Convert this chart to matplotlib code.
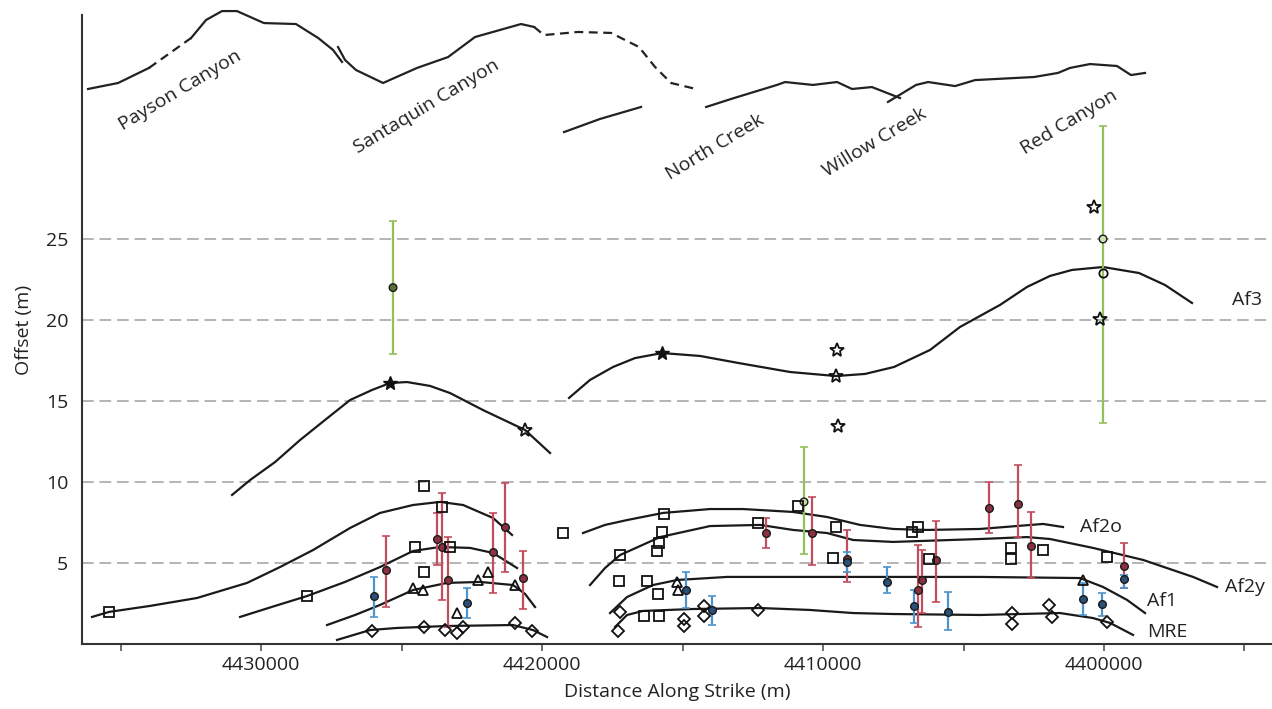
import numpy as np
import matplotlib.pyplot as plt
from matplotlib.ticker import MultipleLocator, FuncFormatter

plt.rcParams['font.family'] = ['Open Sans', 'DejaVu Sans']

# ---- schematic range-front profile (drawn in the offset axis units) ----
prof_a1_x = [4436160, 4435090, 4433990]
prof_a1_y = [34.26, 34.63, 35.56]
prof_a_dash_x = [4433990, 4432490]
prof_a_dash_y = [35.56, 37.41]
prof_a2_x = [4432490, 4431960, 4431390, 4430860, 4429900, 4428760, 4427970, 4427440, 4427120]
prof_a2_y = [37.41, 38.52, 39.07, 39.07, 38.33, 38.27, 37.41, 36.67, 35.93]
prof_b_x = [4427262, 4427012, 4426621, 4425660, 4424450, 4423347, 4422386, 4420749, 4420286]
prof_b_y = [36.85, 36.05, 35.43, 34.63, 35.56, 36.23, 37.47, 38.27, 38.09]
prof_b_dash_x = [4420286, 4419930, 4418720, 4417546, 4416549, 4415980, 4415410, 4414520]
prof_b_dash_y = [38.09, 37.59, 37.78, 37.72, 36.85, 35.62, 34.63, 34.26]
prof_c_x = [4419218, 4417937, 4416478]
prof_c_y = [31.60, 32.41, 33.15]
prof_d_x = [4414160, 4413170, 4411640, 4411350, 4410360, 4409500, 4408970, 4408260, 4407260]
prof_d_y = [33.15, 33.70, 34.51, 34.69, 34.51, 34.69, 34.26, 34.38, 33.70]
prof_e_x = [4407690, 4406690, 4406260, 4405300, 4404590, 4402490, 4401640, 4401210, 4400500, 4399540, 4399040, 4398540]
prof_e_y = [33.46, 34.51, 34.69, 34.44, 34.81, 35.00, 35.25, 35.56, 35.80, 35.68, 35.12, 35.25]

places = ["Payson Canyon", "Santaquin Canyon", "North Creek", "Willow Creek", "Red Canyon"]
place_x = [4432885, 4424094, 4413844, 4408150, 4401245]
place_y = [34.2, 33.15, 30.68, 30.93, 32.22]

# ---- fitted offset curves ----
af3_left_x = [4431034, 4430393, 4429504, 4428614, 4427724, 4426834, 4426052, 4425411, 4424806,
              4423987, 4423275, 4422101, 4420606, 4419716]
af3_left_y = [9.20, 10.12, 11.23, 12.59, 13.83, 15.06, 15.68, 16.11, 16.17, 15.93, 15.49, 14.44, 13.21, 11.79]
af3_right_x = [4419040, 4418293, 4417474, 4416691, 4415730, 4414378, 4413026, 4411175, 4409538, 4408506,
               4407474, 4406192, 4405125, 4403701, 4402740, 4401921, 4401139, 4400035, 4398754, 4397829, 4396868]
af3_right_y = [15.19, 16.30, 17.10, 17.65, 17.96, 17.78, 17.35, 16.79, 16.54, 16.67,
               17.10, 18.15, 19.57, 20.93, 22.04, 22.72, 23.09, 23.27, 22.90, 22.16, 21.05]

af2o_left_x = [4436017, 4435412, 4433952, 4432280, 4430500, 4429326, 4428151, 4426834, 4425767,
               4424592, 4423631, 4422813, 4421745, 4421069]
af2o_left_y = [1.67, 1.98, 2.35, 2.84, 3.77, 4.75, 5.80, 7.16, 8.09, 8.58, 8.77, 8.58, 7.78, 6.73]
af2o_right_x = [4418542, 4417759, 4416976, 4415695, 4414022, 4412848, 4411068, 4409858, 4408684,
                4407509, 4406299, 4404413, 4402171, 4401459]
af2o_right_y = [6.85, 7.35, 7.65, 8.09, 8.33, 8.33, 8.15, 7.84, 7.35, 7.10, 7.04, 7.10, 7.41, 7.22]

af2y_left_x = [4430749, 4429504, 4428365, 4427012, 4425767, 4424592, 4423631, 4422564, 4421745, 4420891]
af2y_left_y = [1.67, 2.35, 2.96, 3.83, 4.75, 5.74, 5.99, 5.93, 5.62, 4.69]
af2y_right_x = [4418293, 4417759, 4417225, 4415802, 4414022, 4412243, 4411068, 4409858, 4408933,
                4407509, 4404413, 4402740, 4401921, 4400391, 4398612, 4396832, 4395978]
af2y_right_y = [3.64, 4.69, 5.49, 6.60, 7.28, 7.35, 7.04, 6.85, 6.42, 6.30, 6.48, 6.60, 6.48,
                5.93, 5.19, 4.14, 3.52]

af1_left_x = [4427653, 4426657, 4425767, 4424592, 4423382, 4422208, 4421033, 4420606, 4420250]
af1_left_y = [1.17, 1.79, 2.41, 3.33, 3.77, 3.83, 3.64, 3.09, 2.28]
af1_right_x = [4417581, 4416976, 4416051, 4415197, 4413417, 4411068, 4404413, 4400854, 4400035,
               4399181, 4398540]
af1_right_y = [1.91, 2.90, 3.64, 3.95, 4.14, 4.14, 4.14, 4.07, 3.52, 2.72, 1.91]

mre_left_x = [4427297, 4426123, 4425162, 4423382, 4421033, 4420322, 4419823]
mre_left_y = [0.25, 0.86, 0.99, 1.11, 1.17, 0.86, 0.43]
mre_right_x = [4417403, 4416976, 4416407, 4414627, 4412243, 4410463, 4408933, 4407509, 4404413,
               4401566, 4400391, 4399786, 4398968]
mre_right_y = [1.05, 1.79, 2.04, 2.16, 2.22, 2.10, 1.91, 1.85, 1.79, 1.91, 1.60, 1.30, 0.56]

curve_names = ["Af3", "Af2o", "Af2y", "Af1", "MRE"]
curve_lab_x = [4394910, 4400106, 4394981, 4397935, 4397758]
curve_lab_y = [21.23, 7.22, 3.52, 2.65, 0.74]

# ---- measured offsets ----
sq_x = [4435412, 4428365, 4424201, 4423560, 4424521, 4423275, 4424201, 4419254, 4415659, 4415730,
        4415837, 4415908, 4417225, 4417261, 4416264, 4415873, 4416371, 4415837, 4412314, 4410890,
        4409538, 4409645, 4406619, 4406833, 4406228, 4403310, 4403310, 4402171, 4399893]
sq_y = [1.98, 2.96, 9.75, 8.46, 5.99, 5.99, 4.44, 6.85, 8.02, 6.91,
        6.23, 5.74, 5.49, 3.89, 3.89, 3.09, 1.73, 1.73, 7.47, 8.52,
        7.22, 5.31, 7.22, 6.91, 5.25, 5.93, 5.25, 5.80, 5.37]
tri_x = [4424592, 4424236, 4422279, 4421923, 4423026, 4420962, 4415197, 4415161, 4400747]
tri_y = [3.46, 3.33, 3.95, 4.44, 1.91, 3.64, 3.83, 3.33, 3.95]
dia_x = [4426052, 4424201, 4423453, 4423026, 4422813, 4420962, 4420357, 4417225, 4417296, 4414947,
         4414947, 4414236, 4414236, 4412314, 4403274, 4403274, 4401957, 4401850, 4399893]
dia_y = [0.80, 1.05, 0.86, 0.68, 1.05, 1.30, 0.80, 1.98, 0.80, 1.54,
         1.11, 2.35, 1.73, 2.10, 1.91, 1.23, 2.41, 1.67, 1.36]
star_fill_x = [4425411, 4415730]
star_fill_y = [16.11, 17.96]
star_open_x = [4420606, 4409502, 4409538, 4409467, 4400356, 4400142]
star_open_y = [13.21, 18.15, 16.54, 13.46, 26.98, 20.06]
circ_x = [4400035]
circ_y = [22.90]

# error-bar measurements: centre, low, high
green_x = [4425304, 4410677, 4400035]
green_c = [22.0, 8.77, 25.0]
green_lo = [17.9, 5.56, 13.64]
green_hi = [26.1, 12.16, 31.98]
green_face = ['#5f6e35', '#c9d9a0', '#cfe0b0']

red_x = [4425553, 4423738, 4423560, 4423347, 4421745, 4421318, 4420677, 4412029, 4410392, 4409146,
         4406619, 4406477, 4405979, 4404092, 4403060, 4402598, 4399288]
red_c = [4.57, 6.48, 5.99, 3.95, 5.68, 7.22, 4.07, 6.85, 6.85, 5.25, 3.33, 3.95, 5.19, 8.40, 8.64, 6.05, 4.81]
red_lo = [2.28, 4.88, 2.72, 1.05, 3.15, 4.44, 2.16, 5.93, 4.88, 3.83, 1.05, 1.91, 2.59, 6.85, 6.60, 4.07, 3.46]
red_hi = [6.67, 8.09, 9.32, 6.60, 8.09, 9.94, 5.74, 7.78, 9.07, 7.04, 6.11, 5.80, 7.59, 10.0, 11.05, 8.15, 6.23]

blue_x = [4425980, 4422671, 4414876, 4413951, 4409146, 4407723, 4406762, 4405552, 4400747, 4400071, 4399288]
blue_c = [2.96, 2.53, 3.33, 2.10, 5.06, 3.83, 2.35, 1.98, 2.78, 2.47, 4.01]
blue_lo = [1.67, 1.60, 2.22, 1.17, 4.44, 3.15, 1.30, 0.86, 1.79, 1.73, 3.46]
blue_hi = [4.14, 3.46, 4.44, 2.96, 5.68, 4.75, 3.33, 3.21, 3.77, 3.15, 4.26]

grid_levels = [5, 10, 15, 20, 25]

fig = plt.figure(figsize=(12.72, 7.09), dpi=100)
ax = fig.add_axes([0.0645, 0.0917, 0.9355, 0.8872])
ax.set_xlim(4436373, 4394021)
ax.set_ylim(0, 38.83)

for g in grid_levels:
    ax.axhline(g, color='#a8a8a8', lw=1.2, ls=(0, (7, 3.5)), zorder=0)

# profile
pk = dict(color='#222222', lw=1.6, clip_on=False, zorder=2)
for px, py in [(prof_a1_x, prof_a1_y), (prof_a2_x, prof_a2_y), (prof_b_x, prof_b_y),
               (prof_c_x, prof_c_y), (prof_d_x, prof_d_y), (prof_e_x, prof_e_y)]:
    ax.plot(px, py, **pk)
for px, py in [(prof_a_dash_x, prof_a_dash_y), (prof_b_dash_x, prof_b_dash_y)]:
    ax.plot(px, py, ls=(0, (4, 2.5)), **pk)
for name, x, y in zip(places, place_x, place_y):
    ax.text(x, y, name, rotation=31, ha='center', va='center', fontsize=14, color='#222222')

# curves
ck = dict(color='#1a1a1a', lw=1.6, zorder=2)
for cx, cy in [(af3_left_x, af3_left_y), (af3_right_x, af3_right_y),
               (af2o_left_x, af2o_left_y), (af2o_right_x, af2o_right_y),
               (af2y_left_x, af2y_left_y), (af2y_right_x, af2y_right_y),
               (af1_left_x, af1_left_y), (af1_right_x, af1_right_y),
               (mre_left_x, mre_left_y), (mre_right_x, mre_right_y)]:
    ax.plot(cx, cy, **ck)
for name, x, y in zip(curve_names, curve_lab_x, curve_lab_y):
    ax.text(x, y, name, ha='center', va='center', fontsize=14, color='#222222')

# error bars
def bars(xs, c, lo, hi, color, mfc, ms=5.5):
    c = np.array(c)
    yerr = [c - np.array(lo), np.array(hi) - c]
    ax.errorbar(xs, c, yerr=yerr, fmt='none', ecolor=color, elinewidth=1.6,
                capsize=3, capthick=1.2, zorder=3)
    ax.scatter(xs, c, s=ms ** 2, c=mfc, edgecolors='#1a1a1a', linewidths=1.0, zorder=4)

bars(green_x, green_c, green_lo, green_hi, '#93c05a', green_face)
bars(red_x, red_c, red_lo, red_hi, '#c24d5c', '#8a3040')
bars(blue_x, blue_c, blue_lo, blue_hi, '#4d94cc', '#2a4f78')

mk = dict(ls='none', mfc='none', mec='#111111', mew=1.3, zorder=4)
ax.plot(sq_x, sq_y, 's', ms=7, **mk)
ax.plot(tri_x, tri_y, '^', ms=7.5, **mk)
ax.plot(dia_x, dia_y, 'D', ms=6, **mk)
ax.plot(star_open_x, star_open_y, '*', ms=10, **mk)
ax.plot(circ_x, circ_y, 'o', ms=6, **mk)
ax.plot(star_fill_x, star_fill_y, '*', ms=10, ls='none', color='#111111', zorder=4)

# axes styling
for s in ['top', 'right']:
    ax.spines[s].set_visible(False)
for s in ['left', 'bottom']:
    ax.spines[s].set_color('#333333')
    ax.spines[s].set_linewidth(1.5)

ax.xaxis.set_major_locator(MultipleLocator(5000))
ax.xaxis.set_major_formatter(FuncFormatter(lambda v, p: f"{int(round(v))}" if round(v) % 10000 == 0 else ""))
ax.tick_params(axis='x', length=5, width=1.2, color='#555555', pad=4, labelsize=14, labelcolor='#222222')
ax.set_yticks(grid_levels)
ax.tick_params(axis='y', length=0, pad=10, labelsize=14, labelcolor='#222222')

ax.set_xlabel("Distance Along Strike (m)", fontsize=14, color='#222222', labelpad=6)
ax.set_ylabel("Offset (m)", fontsize=14, color='#222222', labelpad=9)

fig.savefig("out.png", dpi=100, facecolor='white')
